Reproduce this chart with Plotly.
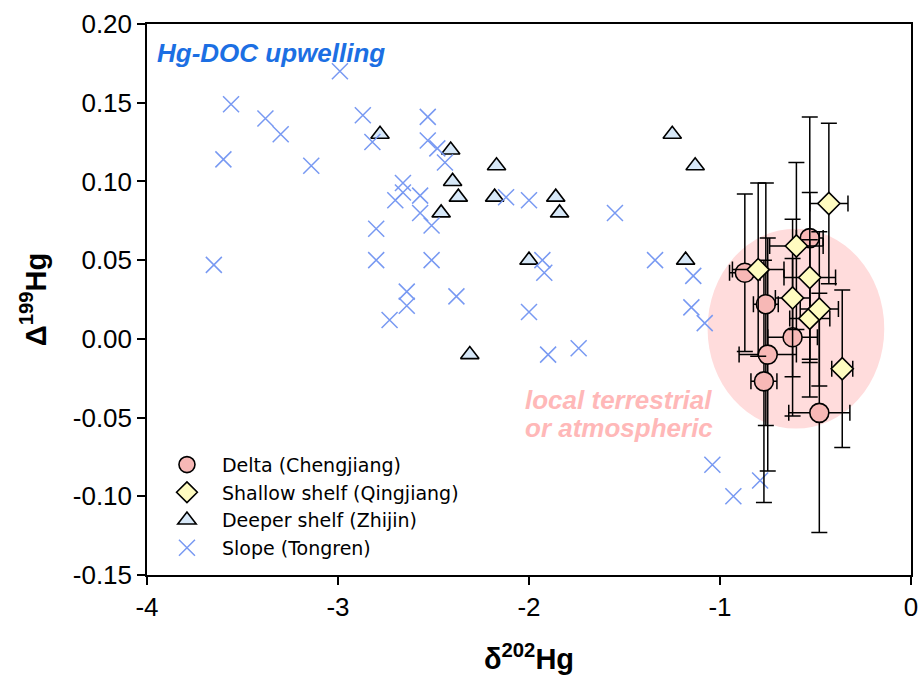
import plotly.graph_objects as go

# ---------------- data ----------------
# Slope (Tongren)
slope_x = [-3.65, -3.60, -3.56, -3.38, -3.30, -3.14, -2.99, -2.87, -2.82, -2.80, -2.80,
           -2.73, -2.70, -2.66, -2.66, -2.64, -2.64, -2.57, -2.57, -2.53, -2.53, -2.51,
           -2.51, -2.48, -2.44, -2.38, -2.12, -2.00, -2.00, -1.93, -1.92, -1.90, -1.74,
           -1.55, -1.34, -1.14, -1.15, -1.08, -1.04, -0.93, -0.79]
slope_y = [0.047, 0.114, 0.149, 0.140, 0.130, 0.110, 0.170, 0.142, 0.125, 0.070, 0.050,
           0.012, 0.088, 0.099, 0.093, 0.030, 0.021, 0.091, 0.080, 0.141, 0.126, 0.072,
           0.050, 0.121, 0.112, 0.027, 0.090, 0.088, 0.017, 0.050, 0.042, -0.010, -0.006,
           0.080, 0.050, 0.040, 0.020, 0.010, -0.080, -0.100, -0.090]

# Deeper shelf (Zhijin)
deeper_x = [-2.78, -2.41, -2.17, -2.40, -2.37, -2.18, -1.86, -1.84, -2.46, -2.00, -2.31,
            -1.25, -1.13, -1.18]
deeper_y = [0.130, 0.120, 0.110, 0.100, 0.090, 0.090, 0.090, 0.080, 0.080, 0.050, -0.010,
            0.130, 0.110, 0.050]

# Delta (Chengjiang)
delta_x = [-0.87, -0.76, -0.75, -0.77, -0.62, -0.53, -0.48]
delta_y = [0.042, 0.022, -0.010, -0.027, 0.001, 0.064, -0.047]
delta_xerr = [0.08, 0.065, 0.15, 0.068, 0.13, 0.07, 0.16]
delta_yerr = [0.050, 0.077, 0.074, 0.077, 0.050, 0.077, 0.076]

# Shallow shelf (Qingjiang)
shallow_x = [-0.80, -0.60, -0.43, -0.62, -0.53, -0.53, -0.48, -0.36]
shallow_y = [0.044, 0.059, 0.086, 0.026, 0.039, 0.013, 0.019, -0.019]
shallow_xerr = [0.135, 0.14, 0.10, 0.09, 0.135, 0.105, 0.10, 0.055]
shallow_yerr = [0.055, 0.053, 0.051, 0.050, 0.054, 0.050, 0.049, 0.050]

x_ticks = [-4, -3, -2, -1, 0]
y_ticks = [-0.15, -0.10, -0.05, 0.00, 0.05, 0.10, 0.15, 0.20]

# ---------------- figure ----------------
FONT = "Liberation Sans, Arial, sans-serif"
LEG_FONT = "DejaVu Sans, Liberation Sans, sans-serif"
fig = go.Figure()

fig.add_trace(go.Scatter(
    x=deeper_x, y=deeper_y, mode="markers", name="Deeper shelf (Zhijin)", legendrank=3,
    marker=dict(symbol="triangle-up", size=16, color="#d7e8f8",
                line=dict(color="black", width=1.6))))

fig.add_trace(go.Scatter(
    x=slope_x, y=slope_y, mode="markers", name="Slope (Tongren)", legendrank=4,
    marker=dict(symbol="x-thin", size=16, color="#7899f2",
                line=dict(color="#7899f2", width=1.5))))

err_style = dict(color="black", thickness=1.5, width=8)

fig.add_trace(go.Scatter(
    x=delta_x, y=delta_y, mode="markers", name="Delta (Chengjiang)", legendrank=1,
    error_x=dict(type="data", array=delta_xerr, **err_style),
    error_y=dict(type="data", array=delta_yerr, **err_style),
    marker=dict(symbol="circle", size=19, color="#f7b8b6",
                line=dict(color="black", width=1.6))))

fig.add_trace(go.Scatter(
    x=shallow_x, y=shallow_y, mode="markers", name="Shallow shelf (Qingjiang)", legendrank=2,
    error_x=dict(type="data", array=shallow_xerr, **err_style),
    error_y=dict(type="data", array=shallow_yerr, **err_style),
    marker=dict(symbol="diamond", size=17, color="#fffcc0",
                line=dict(color="black", width=1.6))))

# pink ellipse region
fig.add_shape(type="circle", xref="x", yref="y", layer="below",
              x0=-1.065, x1=-0.14, y0=-0.057, y1=0.070,
              fillcolor="#ffdcdc", line=dict(width=0))

fig.add_annotation(x=0.01, y=0.948, xref="paper", yref="paper", xanchor="left", yanchor="middle",
                   text="<b><i>Hg-DOC upwelling</i></b>", showarrow=False,
                   font=dict(family=FONT, size=26, color="#1c6fe3"))
fig.add_annotation(x=0.492, y=0.318, xref="paper", yref="paper", xanchor="left", yanchor="middle",
                   text="<b><i>local terrestrial</i></b>", showarrow=False,
                   font=dict(family=FONT, size=26, color="#ffb8b8"))
fig.add_annotation(x=0.492, y=0.267, xref="paper", yref="paper", xanchor="left", yanchor="middle",
                   text="<b><i>or atmospheric</i></b>", showarrow=False,
                   font=dict(family=FONT, size=26, color="#ffb8b8"))

axis_common = dict(showgrid=False, zeroline=False, showline=True, linecolor="black",
                   linewidth=1.5, mirror=True, ticks="outside", ticklen=8, tickwidth=1.5,
                   tickcolor="black", automargin=False,
                   tickfont=dict(family=FONT, size=26, color="black"))

fig.update_xaxes(range=[-4, 0], tickvals=x_ticks, ticktext=[str(v) for v in x_ticks],
                 title=dict(text="<b>δ<sup>202</sup>Hg</b>", standoff=28,
                            font=dict(family=FONT, size=29, color="black")),
                 **axis_common)
fig.update_yaxes(range=[-0.15, 0.20], tickvals=y_ticks, ticktext=[f"{v:.2f}" for v in y_ticks],
                 title=dict(text="<b>Δ<sup>199</sup>Hg</b>", standoff=18,
                            font=dict(family=FONT, size=29, color="black")),
                 **axis_common)

fig.update_layout(
    width=919, height=679,
    margin=dict(l=147, r=8, t=24, b=104, autoexpand=False),
    paper_bgcolor="white", plot_bgcolor="white",
    showlegend=True,
    legend=dict(x=0.0065, y=0.015, xanchor="left", yanchor="bottom", itemwidth=60,
                bgcolor="rgba(0,0,0,0)", font=dict(family=LEG_FONT, size=19, color="black"),
                itemsizing="trace"),
)

fig.write_html("out.html")
